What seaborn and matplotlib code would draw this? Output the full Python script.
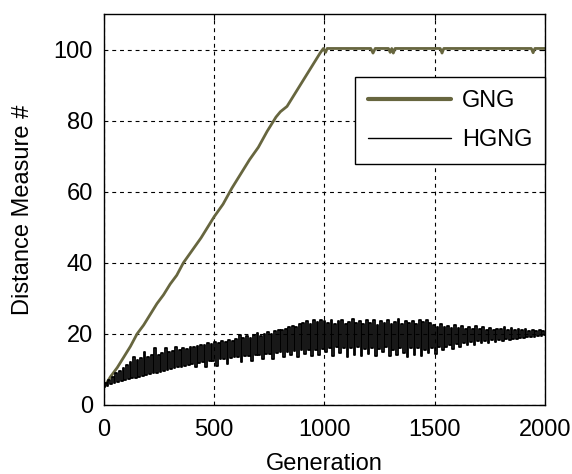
import numpy as np
import pandas as pd
import matplotlib
matplotlib.use("Agg")
import matplotlib.pyplot as plt
import seaborn as sns

# ---------------- data ----------------
gng_gen = [0, 30, 60, 90, 120, 150, 180, 210, 240, 270, 300, 330, 360, 400, 440,
           480, 500, 540, 580, 620, 660, 700, 740, 780, 800, 830, 860, 900, 940,
           980, 995, 1005, 1012, 1020, 1210, 1220, 1230, 1290, 1298, 1305, 1312,
           1320, 1328, 1525, 1533, 1541, 1938, 1946, 1954, 2000]
gng_val = [5.0, 8.0, 10.5, 13.5, 16.5, 20.0, 22.5, 25.5, 28.5, 31.0, 34.0, 36.5,
           40.0, 43.5, 47.0, 51.0, 53.0, 56.5, 61.0, 65.0, 69.0, 72.5, 77.0, 81.0,
           82.5, 84.0, 87.0, 91.0, 95.0, 99.0, 100.3, 99.2, 100.3, 100.3, 100.3,
           99.0, 100.3, 100.3, 99.2, 100.3, 99.0, 100.3, 100.3, 100.3, 99.0,
           100.3, 100.3, 99.1, 100.3, 100.3]

hgng_step = 8  # generations between HGNG samples
hgng_val = [
    5.0, 6.2, 5.3, 7.1, 5.8, 8.0, 6.1, 8.9, 6.4, 9.6, 6.7, 10.3, 7.0, 11.2, 7.2,
    12.0, 7.5, 13.4, 7.7, 12.6, 7.9, 13.1, 8.2, 14.8, 8.4,
    13.5, 8.6, 14.2, 8.9, 16.1, 9.1, 14.0, 9.4, 14.6, 9.6, 15.9, 9.8, 14.9, 10.1,
    15.3, 10.3, 16.2, 10.6, 15.5, 10.8, 16.0, 11.0, 15.8, 11.3, 16.4,
    11.4, 16.3, 10.7, 16.6, 11.8, 17.0, 12.0, 16.8, 10.6, 17.4, 12.3, 17.2, 12.5,
    17.8, 11.0, 17.5, 12.8, 18.0, 13.0, 17.7, 11.5, 18.3, 13.2, 18.1, 13.4,
    18.6, 13.5, 19.8, 12.2, 18.9, 13.7, 19.3, 13.9, 18.8, 12.4, 19.6, 14.0, 20.2,
    14.1, 19.5, 12.8, 20.0, 14.3, 20.5, 14.4, 20.1, 13.0, 20.8, 14.6, 21.0,
    14.8, 21.2, 13.4, 21.5, 15.0, 21.9, 14.0, 22.3, 15.2, 22.0, 13.6, 22.8, 15.4,
    23.1, 14.4, 23.5, 15.5, 22.9, 13.7, 23.8, 15.6, 23.4, 14.2, 24.0, 15.8,
    23.6, 14.9, 23.2, 16.0, 24.0, 13.8, 22.7, 16.2, 23.5, 14.5, 23.9, 16.0, 22.8,
    13.6, 23.3, 15.9, 24.1, 14.1, 23.0, 16.3, 23.7, 13.9, 22.9, 15.7, 23.8,
    14.4, 23.2, 16.1, 24.0, 13.7, 22.6, 15.8, 23.6, 14.8, 23.1, 16.2, 23.9, 13.8,
    22.8, 15.5, 23.4, 14.0, 24.1, 16.0, 22.9, 14.6, 23.5, 13.6, 23.0, 15.9,
    23.7, 14.2, 22.9, 16.1, 23.9, 13.9, 23.3, 15.4, 24.0, 14.6, 23.1, 16.0, 22.4,
    14.3, 21.9, 16.2, 22.7, 15.5, 21.8, 16.4, 22.2, 17.0, 21.7, 15.8, 22.5,
    17.2, 21.6, 16.3, 22.3, 17.5, 21.5, 16.8, 21.9, 17.6, 21.4, 17.0, 22.2, 17.9,
    21.3, 17.3, 21.8, 18.0, 21.2, 17.5, 21.7, 18.2, 21.1, 17.8, 21.5, 18.4,
    21.3, 18.1, 21.9, 18.5, 21.2, 18.3, 21.6, 18.7, 21.0, 18.6, 21.4, 18.9, 21.1,
    18.8, 21.3, 19.0, 20.9, 19.1, 21.2, 19.2, 20.8, 19.3, 21.0, 19.4, 20.9,
    19.8,
]
hgng_gen = np.arange(len(hgng_val)) * hgng_step

series_labels = ["GNG", "HGNG"]
x_ticks = [0, 500, 1000, 1500, 2000]
y_ticks = [0, 20, 40, 60, 80, 100]
x_label = "Generation"
y_label = "Distance Measure #"

# ---------------- style ----------------
sns.set_style("white")
plt.rcParams["font.family"] = ["Liberation Sans", "DejaVu Sans"]
plt.rcParams["xtick.direction"] = "in"
plt.rcParams["ytick.direction"] = "in"
plt.rcParams["text.color"] = "black"
plt.rcParams["axes.labelcolor"] = "black"
plt.rcParams["xtick.color"] = "black"
plt.rcParams["ytick.color"] = "black"

gng_color = "#67663F"

fig = plt.figure(figsize=(5.72, 4.74), dpi=100)
ax = fig.add_axes([0.1818, 0.1456, 0.7710, 0.8249])

sns.lineplot(x=gng_gen, y=gng_val, ax=ax, color=gng_color, linewidth=2.0,
             estimator=None, sort=False, label=series_labels[0])
sns.lineplot(x=hgng_gen, y=hgng_val, ax=ax, color="black", linewidth=1.3,
             estimator=None, sort=False, label=series_labels[1],
             drawstyle="steps-mid")

ax.set_xlim(0, 2000)
ax.set_ylim(0, 110)
ax.set_xticks(x_ticks)
ax.set_yticks(y_ticks)
ax.tick_params(axis="both", labelsize=17, length=4, width=0.8, color="black",
               labelcolor="black", top=True, right=True)
ax.tick_params(axis="x", pad=10)
ax.tick_params(axis="y", pad=8)
ax.set_xlabel(x_label, fontsize=17, labelpad=9, color="black")
ax.set_ylabel(y_label, fontsize=17, labelpad=14, color="black")

ax.grid(True, color="black", linestyle=(0, (3.5, 3.5)), linewidth=0.8)
for s in ax.spines.values():
    s.set_visible(True)
    s.set_color("black")
    s.set_linewidth(1.0)

leg = ax.legend(loc="upper right", bbox_to_anchor=(1.0, 0.839),
                borderaxespad=0, fontsize=17, frameon=True, fancybox=False,
                edgecolor="black", framealpha=1, handlelength=3.5,
                handletextpad=0.45, borderpad=0.55, labelspacing=0.72)
leg.get_frame().set_linewidth(1.0)
leg.get_lines()[0].set_linewidth(3.0)
leg.get_lines()[1].set_linewidth(1.0)
leg.get_lines()[1].set_drawstyle("default")
for t in leg.get_texts():
    t.set_color("black")

fig.savefig("out.png", dpi=100)
